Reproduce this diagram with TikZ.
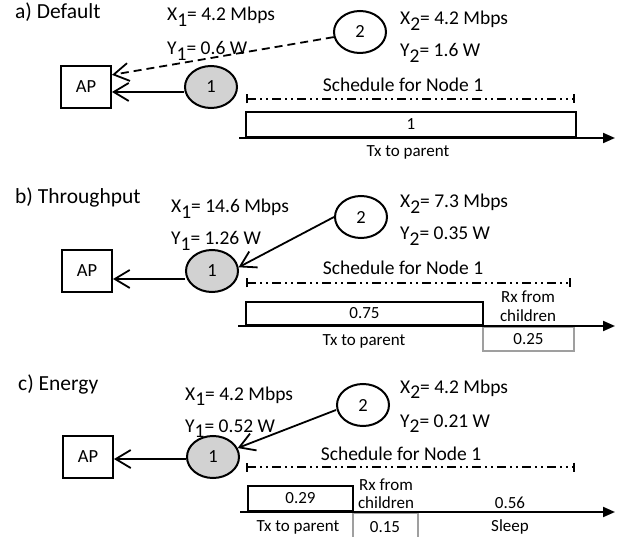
\documentclass[tikz,border=0pt]{standalone}
\usepackage{fontspec}
\setmainfont{Carlito}
\usetikzlibrary{arrows.meta,shapes.geometric}
\newcommand\sbs[1]{\raisebox{-0.3em}{#1}}
\tikzset{
  lbl/.style={font=\fontsize{19.5}{23}\selectfont, inner sep=0pt, anchor=base west},
  head/.style={font=\fontsize{21.5}{25}\selectfont, inner sep=0pt, anchor=base west},
  sm/.style={font=\fontsize{17}{20}\selectfont, inner sep=0pt},
  apbox/.style={draw, line width=2pt, minimum width=50pt, minimum height=42pt, font=\fontsize{18.5}{21}\selectfont, inner sep=0pt},
  nd/.style={ellipse, draw, line width=2pt, minimum width=52pt, minimum height=42pt, font=\fontsize{18.5}{21}\selectfont, inner sep=0pt},
  nd1/.style={nd, fill=gray!35},
  link/.style={line width=1.8pt, -{Straight Barb[length=15pt,width=18pt]}},
  dlink/.style={link, dash pattern=on 8pt off 5pt},
  sched/.style={line width=1.8pt, dash pattern=on 9pt off 4pt on 2pt off 4pt on 2pt off 4pt, {Bar[width=9pt]}-{Bar[width=9pt]}},
  axis/.style={line width=2pt, -{Triangle[length=12pt,width=10pt]}},
  txbox/.style={draw, line width=2pt, anchor=south west, inner sep=0pt, sm},
  rxbox/.style={draw=gray!75, line width=2pt, anchor=north west, inner sep=0pt, sm}
}
\begin{document}
\begin{tikzpicture}[x=1pt,y=-1pt]
\useasboundingbox (0,0) rectangle (621,537);
% ---------- a) Default
\node[head] (ha) at (15,19) {a) Default};
\node[lbl] (xa1) at (167,21) {X\sbs{1}= 4.2 Mbps};
\node[lbl] (ya1) at (167,55) {Y\sbs{1}= 0.6 W};
\node[apbox] (apa) at (86,87) {AP};
\node[nd1] (n1a) at (211,87) {1};
\node[nd] (n2a) at (360,32) {2};
\node[lbl] (xa2) at (400,25) {X\sbs{2}= 4.2 Mbps};
\node[lbl] (ya2) at (400,57) {Y\sbs{2}= 1.6 W};
\node[lbl, anchor=base] (sa) at (403,92) {Schedule for Node 1};
\coordinate (sa0) at (246,99); \coordinate (sa1) at (575,99);
\draw[sched] (sa0) -- (sa1);
\node[txbox, minimum width=330pt, minimum height=25pt] (txa) at (245,138) {1};
\coordinate (axa0) at (239,138); \coordinate (axa1) at (615,138);
\draw[axis] (axa0) -- (axa1);
\node[sm, anchor=base] (tpa) at (408,157) {Tx to parent};
\draw[link] ([yshift=-5pt]n1a.west) -- ([yshift=-5pt]apa.east);
\draw[dlink] (n2a.191) -- (apa.25);
% ---------- b) Throughput
\node[head] (hb) at (15,204) {b) Throughput};
\node[lbl] (xb1) at (171,213) {X\sbs{1}= 14.6 Mbps};
\node[lbl] (yb1) at (171,245) {Y\sbs{1}= 1.26 W};
\node[apbox] (apb) at (87,271) {AP};
\node[nd1] (n1b) at (212,271) {1};
\node[nd] (n2b) at (361,217) {2};
\node[lbl] (xb2) at (400,208) {X\sbs{2}= 7.3 Mbps};
\node[lbl] (yb2) at (400,240) {Y\sbs{2}= 0.35 W};
\node[lbl, anchor=base] (sb) at (403,275) {Schedule for Node 1};
\coordinate (sb0) at (246,283); \coordinate (sb1) at (571,283);
\draw[sched] (sb0) -- (sb1);
\node[rxbox, minimum width=91pt, minimum height=24pt] (rxb) at (482,326) {0.25};
\node[txbox, minimum width=237pt, minimum height=23pt] (txb) at (245,326) {0.75};
\coordinate (axb0) at (238,326); \coordinate (axb1) at (615,326);
\draw[axis] (axb0) -- (axb1);
\node[sm, anchor=base] (tpb) at (364,345) {Tx to parent};
\node[sm, anchor=base] (rfb) at (528,303) {Rx from};
\node[sm, anchor=base] (chb) at (528,321) {children};
\draw[link] ([yshift=-8pt]n1b.west) -- ([yshift=-8pt]apb.east);
\draw[link] (n2b.west) -- (n1b.8);
% ---------- c) Energy
\node[head] (hc) at (18,390) {c) Energy};
\node[lbl] (xc1) at (185,400) {X\sbs{1}= 4.2 Mbps};
\node[lbl] (yc1) at (185,432) {Y\sbs{1}= 0.52 W};
\node[apbox] (apc) at (88,457) {AP};
\node[nd1] (n1c) at (213,457) {1};
\node[nd] (n2c) at (363,405) {2};
\node[lbl] (xc2) at (400,393) {X\sbs{2}= 4.2 Mbps};
\node[lbl] (yc2) at (400,427) {Y\sbs{2}= 0.21 W};
\node[lbl, anchor=base] (sc) at (401,460) {Schedule for Node 1};
\coordinate (sc0) at (246,467); \coordinate (sc1) at (575,467);
\draw[sched] (sc0) -- (sc1);
\node[rxbox, minimum width=65pt, minimum height=30pt, text depth=0pt] (rxc) at (352,512) {};
\node[sm] (v15) at (385,527) {0.15};
\node[txbox, minimum width=105pt, minimum height=25pt] (txc) at (247,512) {0.29};
\coordinate (axc0) at (240,512); \coordinate (axc1) at (615,512);
\draw[axis] (axc0) -- (axc1);
\node[sm] (tpc) at (298,527) {Tx to parent};
\node[sm, anchor=base] (rfc) at (386,490) {Rx from};
\node[sm, anchor=base] (chc) at (386,508) {children};
\node[sm, anchor=base] (v56) at (510,508) {0.56};
\node[sm] (slc) at (510,527) {Sleep};
\draw[link] ([yshift=-2pt]n1c.west) -- ([yshift=-2pt]apc.east);
\draw[link] ([yshift=-5pt]n2c.west) -- (n1c.20);
\end{tikzpicture}
\end{document}
